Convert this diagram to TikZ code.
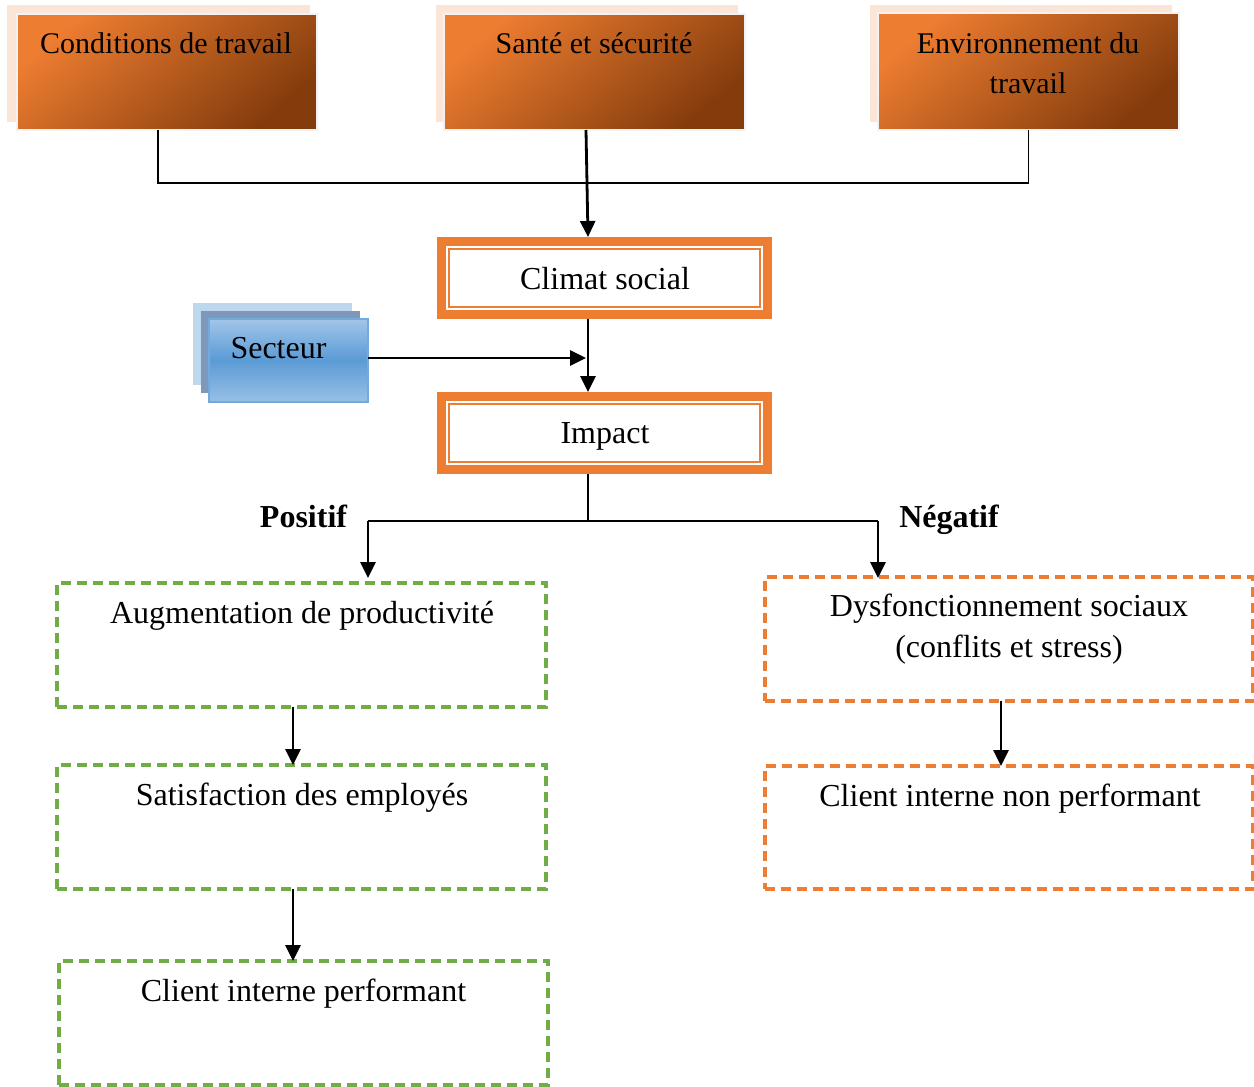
\documentclass[tikz,border=0pt]{standalone}
\usepackage{fontspec}
\setmainfont{Liberation Serif}
\usetikzlibrary{arrows.meta}

\definecolor{orA}{HTML}{ED7D31}
\definecolor{brA}{HTML}{843C0C}
\definecolor{peach}{HTML}{FBE5D6}
\definecolor{grnD}{HTML}{70AD47}
\definecolor{bluL}{HTML}{BDD7EE}
\definecolor{bluG}{HTML}{7D98BA}
\definecolor{bluM}{HTML}{5B9BD5}
\definecolor{bluT}{HTML}{A2C6E9}
\definecolor{edgeG}{HTML}{F2F2F2}

\tikzset{
  box/.style={rectangle, inner sep=0pt, outer sep=0pt},
  shadowbox/.style={box, fill=peach},
  topbox/.style={box, draw=edgeG, line width=2pt, shading=axis,
    top color=orA, bottom color=brA, shading angle=40},
  dblouter/.style={box, fill=orA, minimum width=335pt, minimum height=82pt},
  dblgap/.style={box, fill=white, minimum width=317pt, minimum height=64pt},
  dblline/.style={box, draw=orA, line width=2pt,
    minimum width=311pt, minimum height=58pt},
  dashgreen/.style={box, draw=grnD, line width=3.2pt,
    dash pattern=on 10pt off 6pt, minimum width=489pt, minimum height=124pt},
  dashorange/.style={box, draw=orA, line width=3.2pt,
    dash pattern=on 10pt off 6pt, minimum width=488pt, minimum height=124pt},
  lbl/.style={inner sep=0pt, anchor=base, font=\fontsize{32pt}{41pt}\selectfont, align=center},
  toplbl/.style={lbl, font=\fontsize{30pt}{40pt}\selectfont},
  boldlbl/.style={lbl, font=\fontsize{32pt}{41pt}\selectfont\bfseries},
  thinline/.style={line width=1.5pt, draw=black},
  arr/.style={line width=2.8pt, draw=black, -{Triangle[length=16pt,width=15pt]}},
}

\begin{document}
\begin{tikzpicture}[x=1pt, y=-1pt]
\useasboundingbox (0,0) rectangle (1254,1087);

% --- three source boxes (with offset backdrop) ---
\node[shadowbox, minimum width=303pt, minimum height=117pt] (sh1) at (158.5,63.5) {};
\node[shadowbox, minimum width=302pt, minimum height=117pt] (sh2) at (587,63.5) {};
\node[shadowbox, minimum width=302pt, minimum height=117pt] (sh3) at (1021,63.5) {};
\node[topbox, minimum width=300pt, minimum height=116pt] (cond) at (167,72) {};
\node[topbox, minimum width=301pt, minimum height=116pt] (sante) at (594.5,72) {};
\node[topbox, minimum width=301pt, minimum height=117pt] (envt) at (1028.5,71.5) {};
\node[toplbl] (tcond) at (166,53) {Conditions de travail};
\node[toplbl] (tsante) at (594,53) {Santé et sécurité};
\node[toplbl] (tenvt) at (1028,93) {Environnement du\\travail};

% --- central chain ---
\node[dblouter] (climat) at (604.5,278) {};
\node[dblgap] (climatgap) at (604.5,278) {};
\node[dblline] (climatin) at (604.5,278) {};
\node[lbl] (tclimat) at (605,289) {Climat social};
\node[dblouter] (impact) at (604.5,433) {};
\node[dblgap] (impactgap) at (604.5,433) {};
\node[dblline] (impactin) at (604.5,433) {};
\node[lbl] (timpact) at (605,443) {Impact};

% --- secteur stack ---
\node[box, fill=bluL, minimum width=159pt, minimum height=82pt] (sec1) at (272.5,344) {};
\node[box, fill=bluG, minimum width=159pt, minimum height=82pt] (sec2) at (280.5,352) {};
\node[box, draw=bluM!85!white, line width=2pt, shading=axis, top color=bluT,
      bottom color=bluT!85!bluM, middle color=bluM, minimum width=159pt, minimum height=83pt]
      (secteur) at (288.5,360) {};
\node[lbl] (tsecteur) at (278.5,358) {Secteur};

% --- consequence boxes ---
\node[dashgreen] (augm) at (301.5,645) {};
\node[dashgreen] (satis) at (301.5,827) {};
\node[dashgreen] (clientp) at (303.5,1023) {};
\node[dashorange] (dysf) at (1009,639) {};
\node[dashorange, minimum height=123pt] (clientn) at (1009,827.5) {};
\node[lbl] (taugm) at (302,623) {Augmentation de productivité};
\node[lbl] (tsatis) at (302,805) {Satisfaction des employés};
\node[lbl] (tclientp) at (303.5,1001) {Client interne performant};
\node[lbl] (tdysf) at (1009,657) {Dysfonctionnement sociaux\\(conflits et stress)};
\node[lbl] (tclientn) at (1010,806) {Client interne non performant};

\node[boldlbl] (tpos) at (303.5,527) {Positif};
\node[boldlbl] (tneg) at (949,527) {Négatif};

% --- connectors ---
\draw[thinline] ([xshift=-9pt]cond.south) -- ++(0,53) -| (envt.south);
\draw[arr] ([xshift=-8.5pt]sante.south) -- ([xshift=-16.5pt]climat.north);
\draw[arr] ([xshift=-16.5pt]climat.south) -- ([xshift=-16.5pt]impact.north);

\coordinate (secout) at (368,358);
\coordinate (secin) at (586,358);
\draw[arr] (secout) -- (secin);

\coordinate (split) at (588,521);
\coordinate (posL) at (368,521);
\coordinate (posR) at (878,521);
\draw[thinline] ([xshift=-16.5pt]impact.south) -- (split);
\draw[thinline] (posL) -- (posR);
\draw[arr, shorten >=5pt] (posL) -- (posL |- augm.north);
\draw[arr, shorten >=-1pt] (posR) -- (posR |- dysf.north);

\draw[arr] ([xshift=-8.5pt]augm.south) -- ([xshift=-8.5pt]satis.north);
\draw[arr] ([xshift=-8.5pt]satis.south) -- ([xshift=-8.5pt]satis.south |- clientp.north);
\draw[arr] ([xshift=-8pt]dysf.south) -- ([xshift=-8pt]dysf.south |- clientn.north);
\end{tikzpicture}
\end{document}
